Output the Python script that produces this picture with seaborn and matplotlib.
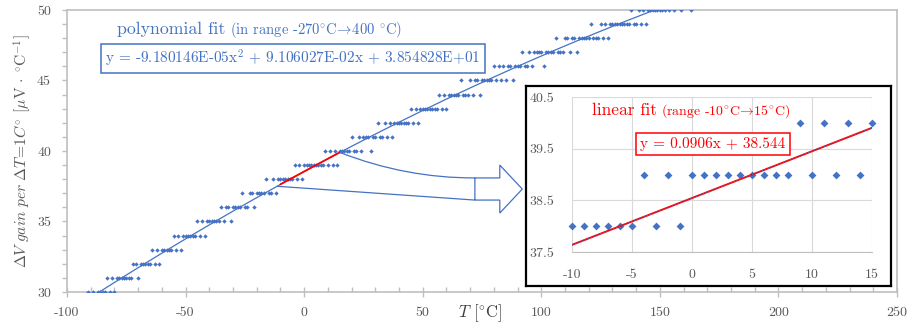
import numpy as np
import pandas as pd
import seaborn as sns
import matplotlib.pyplot as plt
from matplotlib.path import Path
from matplotlib.patches import PathPatch
from matplotlib.ticker import MultipleLocator

# ---------------------------------
# data
# ---------------------------------
gain_levels = list(range(30, 51))  # uV per degree (integer steps)
temps_per_level = [
    [-91, -89, -87, -86, -85, -84, -82, -80],                                 # 30
    [-83, -81, -79, -78, -77, -76, -75, -74, -73, -70],                       # 31
    [-72, -71, -69, -68, -67, -66, -65, -63, -61],                            # 32
    [-64, -62, -60, -59, -58, -57, -56, -54, -52],                            # 33
    [-55, -53, -51, -50, -49, -48, -47, -46, -44, -42],                       # 34
    [-45, -43, -41, -40, -39, -38, -37, -36, -34, -31],                       # 35
    [-35, -33, -32, -30, -29, -28, -27, -25, -24, -21],                       # 36
    [-26, -23, -22, -20, -19, -18, -17, -15, -14, -12],                       # 37
    [-16, -13, -11, -10, -9, -8, -7, -6, -5, -3, -1],                         # 38
    [-4, -2, 0, 1, 2, 3, 4, 5, 6, 7, 8, 10, 12, 14],                          # 39
    [9, 11, 13, 15, 16, 17, 18, 19, 21, 22, 24, 28],                          # 40
    [20, 23, 25, 26, 27, 29, 30, 32, 33, 35, 37],                             # 41
    [31, 34, 36, 38, 39, 40, 41, 42, 43, 44, 46, 48],                         # 42
    [45, 47, 49, 50, 51, 52, 53, 54, 55, 56, 58, 60],                         # 43
    [57, 59, 61, 62, 63, 64, 65, 67, 68, 69, 71, 74],                         # 44
    [66, 70, 72, 73, 75, 76, 77, 78, 79, 81, 83, 85, 88],                     # 45
    [80, 82, 84, 86, 87, 89, 90, 91, 93, 94, 96, 101],                        # 46
    [92, 95, 97, 98, 99, 100, 102, 103, 104, 105, 107, 108, 109, 112, 115],   # 47
    [106, 110, 111, 113, 114, 116, 117, 118, 119, 120, 122, 123, 124, 126, 128],  # 48
    [121, 125, 127, 129, 130, 131, 132, 133, 134, 135, 136, 137, 139, 140, 142, 144],  # 49
    [138, 141, 143, 145, 146, 147, 148, 149, 150, 151, 152, 154, 156, 159, 163],  # 50
]

# trendline coefficients as printed on the chart
poly_coefs = [-9.180146e-05, 9.106027e-02, 3.854828e+01]
poly_range = [-270, 400]
lin_coefs = [0.0906, 38.544]
lin_range = [-10, 15]

main_xticks = [-100, -50, 0, 50, 100, 150, 200, 250]
main_yticks = [30, 35, 40, 45, 50]
inset_xticks = [-10, -5, 0, 5, 10, 15]
inset_yticks = [37.5, 38.5, 39.5, 40.5]

rows = [(t, g) for g, ts in zip(gain_levels, temps_per_level) for t in ts]
df = pd.DataFrame(rows, columns=["T", "gain"]).sort_values("T")

BLUE = "#4472C4"
RED = "#FF0000"
GREY_TXT = "#595959"
GREY_AX = "#BFBFBF"
DEG = r"$^{\circ}\mathrm{C}$"
ARROW = r"$\!\rightarrow\!$"

sns.set_style("white")
plt.rcParams["font.family"] = ["cmr10", "DejaVu Serif"]
plt.rcParams["mathtext.fontset"] = "cm"
plt.rcParams["axes.unicode_minus"] = False

fig = plt.figure(figsize=(9.1, 3.29), dpi=100)
W, H = 910, 329

# -------------------------------
# main chart
# -------------------------------
ax = fig.add_axes([67 / W, 37 / H, 830 / W, 282 / H])

sns.scatterplot(data=df, x="T", y="gain", marker="D", s=5, color=BLUE,
                linewidth=0, ax=ax, zorder=3)

x_poly = np.linspace(poly_range[0], poly_range[1], 1341)
sns.lineplot(x=x_poly, y=np.polyval(poly_coefs, x_poly), color=BLUE, lw=0.9,
             ax=ax, zorder=2)
x_lin = np.array(lin_range, dtype=float)
sns.lineplot(x=x_lin, y=np.polyval(lin_coefs, x_lin), color=RED, lw=1.3,
             ax=ax, zorder=4)

ax.set_xlim(-100, 250)
ax.set_ylim(30, 50)
ax.set_xticks(main_xticks, labels=[str(t) for t in main_xticks])
ax.set_yticks(main_yticks, labels=[str(t) for t in main_yticks])
ax.xaxis.set_minor_locator(MultipleLocator(10))
ax.yaxis.set_minor_locator(MultipleLocator(1))
ax.tick_params(axis="x", which="major", direction="inout", length=7, width=1,
               color=GREY_AX, labelcolor=GREY_TXT, labelsize=10, pad=7)
ax.tick_params(axis="x", which="minor", direction="in", length=3.5, width=1,
               color=GREY_AX)
ax.tick_params(axis="y", which="both", direction="out", length=3.5, width=1,
               color=GREY_AX, labelcolor=GREY_TXT, labelsize=10, pad=8)
ax.tick_params(left=True, bottom=True, which="both")
for sp in ax.spines.values():
    sp.set_color(GREY_AX)
    sp.set_linewidth(1.2)

ax.set_xlabel(r"$T$ [" + DEG + "]", fontsize=12, color="#404040")
ax.xaxis.set_label_coords((480 - 67) / 830, -21 / 282)
ax.xaxis.label.set_va("center")
ax.set_ylabel(r"$\Delta V\ gain\ per\ \Delta T\!=\!1C^{\circ}$ [$\mathrm{\mu}$V $\cdot$ "
              + r"$^{\circ}\mathrm{C}^{-1}$]",
              fontsize=11.2, color=GREY_TXT)
ax.yaxis.set_label_coords(-45 / 830, 141 / 282)
ax.yaxis.label.set_va("center")

t1 = ax.text(50 / 830, 258 / 282, "polynomial fit", transform=ax.transAxes,
             color=BLUE, fontsize=12.8, va="baseline")
ax.annotate("(in range -270" + DEG + ARROW + "400 " + DEG + ")",
            xy=(1, 258 / 282), xycoords=(t1, ax.transAxes),
            xytext=(3, 0), textcoords="offset points",
            color=BLUE, fontsize=10.5, va="baseline")
ax.text(38 / 830, 233.5 / 282,
        r"y = -9.180146E-05x$^2$ + 9.106027E-02x + 3.854828E+01",
        transform=ax.transAxes, color=BLUE, fontsize=11, va="center",
        bbox=dict(boxstyle="square,pad=0.28", fc="white", ec=BLUE, lw=1.1))

# callout arrow from the fitted range to the inset
verts = [(-11.5, 37.5), (72, 36.52), (82.5, 36.52), (82.5, 35.6), (92, 37.3),
         (82.5, 39.0), (82.5, 38.09), (72, 38.09), (43, 38.07), (15, 39.9),
         (72, 38.09), (72, 36.52)]
codes = [Path.MOVETO, Path.LINETO, Path.LINETO, Path.LINETO, Path.LINETO,
         Path.LINETO, Path.LINETO, Path.LINETO, Path.CURVE3, Path.CURVE3,
         Path.MOVETO, Path.LINETO]
ax.add_patch(PathPatch(Path(verts, codes), fill=False, ec=BLUE, lw=0.9,
                       zorder=5))

# -------------------------------
# inset chart
# -------------------------------
bax = fig.add_axes([526 / W, 43 / H, 365 / W, 200 / H])
bax.set_xticks([])
bax.set_yticks([])
bax.set_facecolor("white")
for sp in bax.spines.values():
    sp.set_color("black")
    sp.set_linewidth(1.6)

iax = fig.add_axes([572 / W, 77 / H, 300 / W, 155 / H])
sub = df[(df["T"] >= lin_range[0]) & (df["T"] <= lin_range[1])]
sns.scatterplot(data=sub, x="T", y="gain", marker="D", s=16, color=BLUE,
                linewidth=0, ax=iax, zorder=3, clip_on=False)
sns.lineplot(x=x_lin, y=np.polyval(lin_coefs, x_lin), color=RED, lw=1.4,
             ax=iax, zorder=4)
iax.plot(x_lin, np.polyval(lin_coefs, x_lin), color=BLUE, lw=0.6,
         ls=(0, (2, 2)), zorder=5)

iax.set_xlim(-10, 15)
iax.set_ylim(37.5, 40.5)
iax.set_xticks(inset_xticks, labels=[str(t) for t in inset_xticks])
iax.set_yticks(inset_yticks, labels=[str(t) for t in inset_yticks])
iax.tick_params(axis="both", length=0, labelcolor=GREY_TXT, labelsize=10)
iax.tick_params(axis="x", pad=12)
iax.tick_params(axis="y", pad=13)
iax.grid(True, color="#D9D9D9", lw=0.8)
iax.set_xlabel("")
iax.set_ylabel("")
for name, sp in iax.spines.items():
    sp.set_visible(name == "bottom")
    sp.set_color(GREY_AX)

t2 = iax.text(20 / 300, 137 / 155, "linear fit", transform=iax.transAxes,
              color=RED, fontsize=12.5, va="baseline")
iax.annotate("(range -10" + DEG + ARROW + "15" + DEG + ")",
             xy=(1, 137 / 155), xycoords=(t2, iax.transAxes),
             xytext=(3, 0), textcoords="offset points",
             color=RED, fontsize=10, va="baseline")
iax.text(68 / 300, 108 / 155, "y = 0.0906x + 38.544", transform=iax.transAxes,
         color=RED, fontsize=11, va="center",
         bbox=dict(boxstyle="square,pad=0.28", fc="white", ec=RED, lw=1.1))

fig.savefig("out.png", dpi=100)
